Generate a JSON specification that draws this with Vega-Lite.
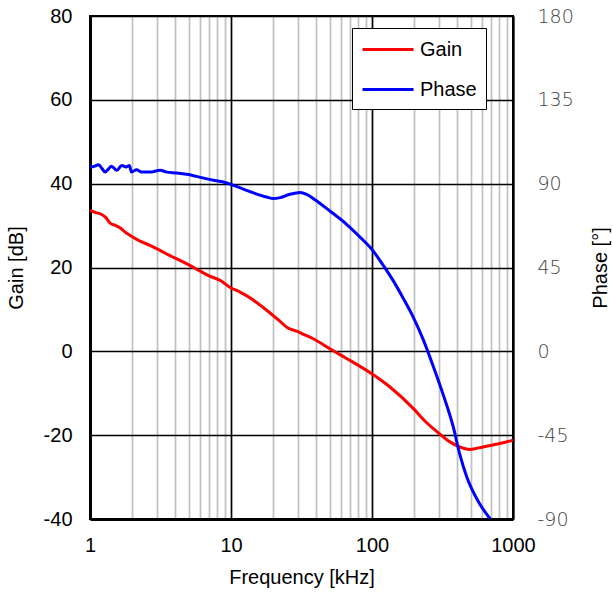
{
  "$schema": "https://vega.github.io/schema/vega-lite/v6.json",
  "width": 423,
  "height": 503,
  "autosize": "none",
  "padding": {"left": 90, "top": 16, "right": 100, "bottom": 75},
  "background": "white",
  "config": {
    "view": {"stroke": "black", "strokeWidth": 2},
    "font": "Liberation Sans",
    "axis": {"labelFont": "Liberation Sans", "titleFont": "Liberation Sans", "labelColor": "black", "titleColor": "black", "titleFontWeight": "normal", "ticks": false}
  },
  "datasets": {
    "gain": [
      {"f": 1, "v": 33.6, "s": "Gain"},
      {"f": 1.1, "v": 33.1, "s": "Gain"},
      {"f": 1.2, "v": 32.7, "s": "Gain"},
      {"f": 1.28, "v": 32.1, "s": "Gain"},
      {"f": 1.39, "v": 30.6, "s": "Gain"},
      {"f": 1.5, "v": 30.1, "s": "Gain"},
      {"f": 1.63, "v": 29.5, "s": "Gain"},
      {"f": 1.8, "v": 28.3, "s": "Gain"},
      {"f": 1.92, "v": 27.7, "s": "Gain"},
      {"f": 2.2, "v": 26.5, "s": "Gain"},
      {"f": 2.66, "v": 25.3, "s": "Gain"},
      {"f": 3.14, "v": 24.1, "s": "Gain"},
      {"f": 3.6, "v": 23.0, "s": "Gain"},
      {"f": 4.35, "v": 21.7, "s": "Gain"},
      {"f": 5.1, "v": 20.5, "s": "Gain"},
      {"f": 6.0, "v": 19.2, "s": "Gain"},
      {"f": 7.0, "v": 18.0, "s": "Gain"},
      {"f": 8.4, "v": 16.9, "s": "Gain"},
      {"f": 9.8, "v": 15.3, "s": "Gain"},
      {"f": 11.5, "v": 14.2, "s": "Gain"},
      {"f": 13.6, "v": 12.8, "s": "Gain"},
      {"f": 17, "v": 10.4, "s": "Gain"},
      {"f": 22.2, "v": 7.2, "s": "Gain"},
      {"f": 25, "v": 5.7, "s": "Gain"},
      {"f": 29.2, "v": 4.8, "s": "Gain"},
      {"f": 33, "v": 4.0, "s": "Gain"},
      {"f": 38.3, "v": 3.0, "s": "Gain"},
      {"f": 50.3, "v": 0.6, "s": "Gain"},
      {"f": 66, "v": -1.7, "s": "Gain"},
      {"f": 99, "v": -5.3, "s": "Gain"},
      {"f": 134, "v": -8.5, "s": "Gain"},
      {"f": 196, "v": -13.6, "s": "Gain"},
      {"f": 240, "v": -16.8, "s": "Gain"},
      {"f": 287, "v": -19.1, "s": "Gain"},
      {"f": 357, "v": -21.6, "s": "Gain"},
      {"f": 418, "v": -22.8, "s": "Gain"},
      {"f": 495, "v": -23.4, "s": "Gain"},
      {"f": 612, "v": -22.8, "s": "Gain"},
      {"f": 806, "v": -22.0, "s": "Gain"},
      {"f": 1000, "v": -21.2, "s": "Gain"}
    ],
    "phase": [
      {"f": 1, "v": 98.9, "s": "Phase"},
      {"f": 1.07, "v": 99.3, "s": "Phase"},
      {"f": 1.15, "v": 100.2, "s": "Phase"},
      {"f": 1.22, "v": 98.0, "s": "Phase"},
      {"f": 1.28, "v": 96.2, "s": "Phase"},
      {"f": 1.35, "v": 97.8, "s": "Phase"},
      {"f": 1.42, "v": 99.4, "s": "Phase"},
      {"f": 1.55, "v": 97.2, "s": "Phase"},
      {"f": 1.68, "v": 99.8, "s": "Phase"},
      {"f": 1.8, "v": 99.0, "s": "Phase"},
      {"f": 1.9, "v": 99.8, "s": "Phase"},
      {"f": 1.97, "v": 96.2, "s": "Phase"},
      {"f": 2.14, "v": 97.5, "s": "Phase"},
      {"f": 2.33, "v": 96.2, "s": "Phase"},
      {"f": 2.66, "v": 96.2, "s": "Phase"},
      {"f": 3.14, "v": 97.2, "s": "Phase"},
      {"f": 3.5, "v": 96.2, "s": "Phase"},
      {"f": 4.12, "v": 95.7, "s": "Phase"},
      {"f": 4.85, "v": 95.0, "s": "Phase"},
      {"f": 5.7, "v": 93.9, "s": "Phase"},
      {"f": 7.5, "v": 91.8, "s": "Phase"},
      {"f": 8.84, "v": 90.9, "s": "Phase"},
      {"f": 10.4, "v": 89.1, "s": "Phase"},
      {"f": 12.9, "v": 86.4, "s": "Phase"},
      {"f": 17.9, "v": 82.8, "s": "Phase"},
      {"f": 20, "v": 82.0, "s": "Phase"},
      {"f": 22.3, "v": 82.5, "s": "Phase"},
      {"f": 26.2, "v": 84.3, "s": "Phase"},
      {"f": 30.8, "v": 85.3, "s": "Phase"},
      {"f": 34.4, "v": 84.3, "s": "Phase"},
      {"f": 39.4, "v": 81.4, "s": "Phase"},
      {"f": 50.3, "v": 75.3, "s": "Phase"},
      {"f": 66, "v": 68.2, "s": "Phase"},
      {"f": 86.7, "v": 59.6, "s": "Phase"},
      {"f": 99, "v": 55.1, "s": "Phase"},
      {"f": 120, "v": 46.2, "s": "Phase"},
      {"f": 141, "v": 38.1, "s": "Phase"},
      {"f": 167, "v": 28.3, "s": "Phase"},
      {"f": 196, "v": 18.4, "s": "Phase"},
      {"f": 232, "v": 5.9, "s": "Phase"},
      {"f": 273, "v": -8.4, "s": "Phase"},
      {"f": 318, "v": -22.7, "s": "Phase"},
      {"f": 377, "v": -40.6, "s": "Phase"},
      {"f": 420, "v": -55.5, "s": "Phase"},
      {"f": 470, "v": -67.5, "s": "Phase"},
      {"f": 580, "v": -81.8, "s": "Phase"},
      {"f": 690, "v": -90, "s": "Phase"}
    ]
  },
  "encoding": {
    "x": {
      "field": "f", "type": "quantitative",
      "scale": {"type": "log", "domain": [1, 1000], "nice": false},
      "axis": {
        "title": "Frequency [kHz]",
        "values": [1,2,3,4,5,6,7,8,9,10,20,30,40,50,60,70,80,90,100,200,300,400,500,600,700,800,900,1000],
        "labelExpr": "(datum.value == 1 || datum.value == 10 || datum.value == 100 || datum.value == 1000) ? '' + datum.value : ''",
        "labelFontSize": 20,
        "titleFontSize": 20,
        "labelPadding": 16,
        "titlePadding": 12,
        "labelFlush": false,
        "labelOverlap": false,
        "domainColor": "black",
        "domainWidth": 3,
        "grid": true,
        "gridColor": {"condition": {"test": "datum.value == 1 || datum.value == 10 || datum.value == 100 || datum.value == 1000", "value": "black"}, "value": "#c0c0c0"},
        "gridWidth": 1.7,
        "gridOpacity": 1
      }
    },
    "color": {
      "field": "s", "type": "nominal",
      "scale": {"domain": ["Gain", "Phase"], "range": ["#ff0000", "#0000ff"]},
      "legend": {
        "title": null,
        "orient": "none",
        "legendX": 262,
        "legendY": 12,
        "symbolType": "M-1,0H3.64",
        "symbolSize": 484,
        "symbolStrokeWidth": 3,
        "labelFontSize": 20,
        "labelFont": "Liberation Sans",
        "labelColor": "black",
        "labelOffset": 34,
        "rowPadding": 17,
        "padding": 9,
        "strokeColor": "black",
        "fillColor": "white"
      }
    }
  },
  "layer": [
    {
      "data": {"name": "gain"},
      "mark": {"type": "line", "strokeWidth": 3, "clip": true, "interpolate": "monotone"},
      "encoding": {
        "y": {
          "field": "v", "type": "quantitative",
          "scale": {"domain": [-40, 80], "nice": false},
          "axis": {
            "title": "Gain [dB]",
            "values": [-40, -20, 0, 20, 40, 60, 80],
            "labelExpr": "'' + datum.value",
            "labelFontSize": 20,
            "titleFontSize": 20,
            "labelPadding": 18,
            "titlePadding": 17,
            "domainColor": "black",
            "domainWidth": 3,
            "grid": true,
            "gridColor": "black",
            "gridWidth": 1.5,
            "gridOpacity": 1
          }
        }
      }
    },
    {
      "data": {"name": "phase"},
      "mark": {"type": "line", "strokeWidth": 3, "clip": true, "interpolate": "monotone"},
      "encoding": {
        "y": {
          "field": "v", "type": "quantitative",
          "scale": {"domain": [-90, 180], "nice": false},
          "axis": {
            "orient": "right",
            "title": "Phase [°]",
            "titleAngle": 270,
            "titleBaseline": "bottom",
            "values": [-90, -45, 0, 45, 90, 135, 180],
            "labelExpr": "'' + datum.value",
            "labelFont": "DejaVu Sans",
            "labelColor": "#444444",
            "labelFontSize": 19,
            "labelFontWeight": 300,
            "titleFontSize": 20,
            "labelPadding": 24,
            "titlePadding": 37,
            "domainColor": "black",
            "domainWidth": 2,
            "grid": false
          }
        }
      }
    }
  ],
  "resolve": {"scale": {"y": "independent"}}
}
